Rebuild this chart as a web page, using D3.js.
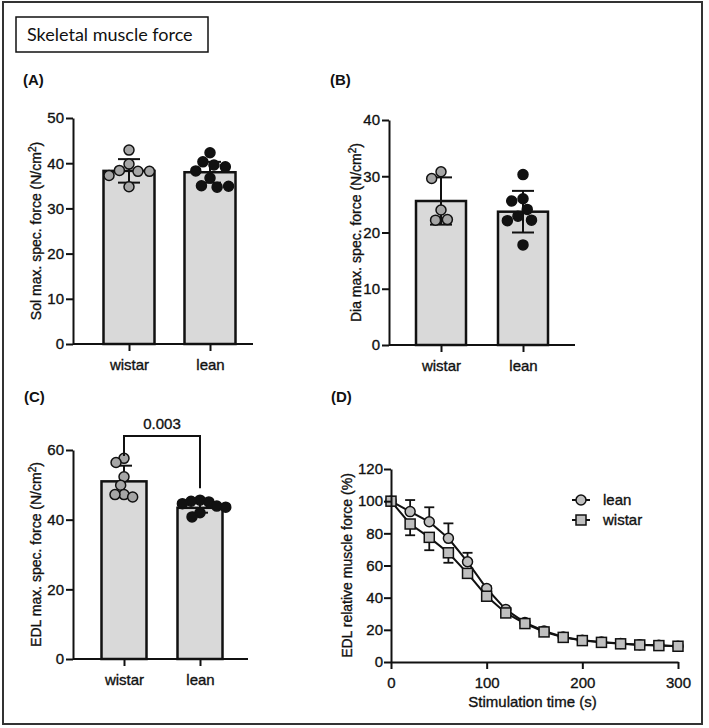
<!DOCTYPE html>
<html>
<head>
<meta charset="utf-8">
<script src="https://cdn.jsdelivr.net/npm/d3@7"></script>
<style>
body { margin: 0; background: #fff; }
text { font-family: "Liberation Sans", Arial, sans-serif; fill: #111; }
</style>
</head>
<body>
<div id="chart-area"></div>
<script>
const FIGURE = { WIDTH: 709, HEIGHT: 728 };

// data
const groups = ["wistar", "lean"];

const solMean = [38.3, 38.0];
const solSD = [2.6, 2.3];
const solWistar = [42.9, 39.8, 38.4, 38.2, 38.2, 37.3, 34.8];
const solLean = [42.3, 40.3, 39.6, 39.2, 38.3, 36.7, 35.0, 34.7, 34.9];

const diaMean = [25.6, 23.7];
const diaSD = [4.2, 3.7];
const diaWistar = [30.8, 29.6, 24.0, 22.2, 22.3];
const diaLean = [30.3, 26.0, 25.6, 24.1, 22.9, 22.2, 22.1, 17.8];

const edlMean = [51.0, 43.4];
const edlSD = [4.5, 1.4];
const edlWistar = [57.6, 56.4, 52.3, 49.9, 47.2, 47.2, 46.5];
const edlLean = [45.6, 45.3, 45.1, 44.6, 43.9, 43.6, 42.0, 40.8];
const edlP = "0.003";

const timePoints = [0, 20, 40, 60, 80, 100, 120, 140, 160, 180, 200, 220, 240, 260, 280, 300];
const leanFatigue = [100, 93.5, 87.2, 76.9, 62.3, 45.7, 32.6, 24.5, 19.3, 15.6, 13.5, 12.5, 11.5, 10.8, 10.4, 9.8];
const leanFatigueSD = [0, 7.2, 9.0, 9.3, 5.6, 1.5, 1.0, 0.8, 0.6, 0.5, 0.5, 0.4, 0.4, 0.4, 0.3, 0.3];
const wistarFatigue = [100, 85.8, 77.5, 67.9, 55.1, 40.9, 30.5, 23.9, 18.7, 15.3, 13.3, 12.2, 11.3, 10.6, 10.2, 9.8];
const wistarFatigueSD = [0, 7.0, 8.0, 6.2, 2.0, 1.5, 1.0, 0.8, 0.6, 0.5, 0.5, 0.4, 0.4, 0.4, 0.3, 0.3];

const svg = d3.select("#chart-area")
    .append("svg")
        .attr("width", FIGURE.WIDTH)
        .attr("height", FIGURE.HEIGHT);

// outer frame and title box
svg.append("rect")
    .attr("x", 3).attr("y", 2)
    .attr("width", 699).attr("height", 722)
    .attr("fill", "none").attr("stroke", "#333").attr("stroke-width", 2);
svg.append("rect")
    .attr("x", 16).attr("y", 17)
    .attr("width", 192).attr("height", 35)
    .attr("fill", "none").attr("stroke", "#111").attr("stroke-width", 1.5);
svg.append("text")
    .attr("x", 27).attr("y", 41)
    .style("font-family", "Lato, 'Open Sans', sans-serif")
    .style("font-size", "18px")
    .text("Skeletal muscle force");

// panel letters
[["(A)", 23, 85], ["(B)", 330, 85], ["(C)", 24, 402], ["(D)", 331, 402]].forEach(l => {
    svg.append("text")
        .attr("x", l[1]).attr("y", l[2])
        .style("font-size", "15px").style("font-weight", "bold")
        .text(l[0]);
});

// labels in the figure look slightly heavier than plain Arial
function heavy(sel) {
    sel.attr("stroke", "#111").attr("stroke-width", 0.35);
}

function styleAxis(g) {
    g.selectAll("path, line").attr("stroke", "#111").attr("stroke-width", 2);
    g.selectAll("text").style("font-size", "15px").attr("fill", "#111").call(heavy);
}

// simple beeswarm so dots don't overlap too much
function swarm(values, y, cx, D) {
    const placed = [];
    values.forEach(v => {
        const py = y(v);
        const cands = [0];
        placed.forEach(p => {
            const dy = Math.abs(p.y - py);
            if (dy < D) {
                const dx = Math.sqrt(D * D - dy * dy);
                cands.push(p.dx - dx, p.dx + dx);
            }
        });
        cands.sort((a, b) => Math.abs(a) - Math.abs(b));
        const ok = cands.find(c => placed.every(p => Math.hypot(p.dx - c, p.y - py) >= D - 0.01));
        placed.push({ dx: ok, y: py });
    });
    return placed.map(p => ({ x: cx + p.dx, y: p.y }));
}

function barPanel(cfg, means, sds, ptsW, ptsL, title) {
    const g = svg.append("g");

    const y = d3.scaleLinear()
        .domain([0, cfg.ymax])
        .range([cfg.bottom, cfg.top]);
    const x = d3.scalePoint()
        .domain(groups)
        .range(cfg.centers);

    // bars
    g.selectAll("rect.bar")
        .data(groups)
        .enter()
        .append("rect")
            .attr("class", "bar")
            .attr("x", d => x(d) - cfg.barW / 2)
            .attr("y", (d, i) => y(means[i]))
            .attr("width", cfg.barW)
            .attr("height", (d, i) => y(0) - y(means[i]))
            .attr("fill", "#d9d9d9")
            .attr("stroke", "#111")
            .attr("stroke-width", 2.5);

    // SD error bars
    groups.forEach((d, i) => {
        const cx = x(d);
        const lo = y(means[i] - sds[i]), hi = y(means[i] + sds[i]);
        g.append("line")
            .attr("x1", cx).attr("x2", cx).attr("y1", lo).attr("y2", hi)
            .attr("stroke", "#111").attr("stroke-width", 2);
        [lo, hi].forEach(yy => {
            g.append("line")
                .attr("x1", cx - cfg.cap / 2).attr("x2", cx + cfg.cap / 2)
                .attr("y1", yy).attr("y2", yy)
                .attr("stroke", "#111").attr("stroke-width", 2);
        });
    });

    // individual animals
    const fills = { wistar: "#a6a6a6", lean: "#111" };
    [[ptsW, "wistar"], [ptsL, "lean"]].forEach(([vals, grp]) => {
        g.selectAll(null)
            .data(swarm(vals, y, x(grp), cfg.gap))
            .enter()
            .append("circle")
                .attr("cx", d => d.x)
                .attr("cy", d => d.y)
                .attr("r", 5)
                .attr("fill", fills[grp])
                .attr("stroke", "#111")
                .attr("stroke-width", 1.5);
    });

    // axes
    const yAxis = d3.axisLeft(y)
        .tickValues(d3.range(0, cfg.ymax + 1, cfg.step))
        .tickSize(7).tickPadding(2).tickSizeOuter(0);
    g.append("g")
        .attr("transform", `translate(${cfg.left}, 0)`)
        .call(yAxis)
        .call(styleAxis);

    const xAxis = d3.axisBottom(x).tickSize(7).tickPadding(8).tickSizeOuter(0);
    const xg = g.append("g")
        .attr("transform", `translate(0, ${cfg.bottom})`)
        .call(xAxis)
        .call(styleAxis);
    xg.select(".domain").remove();
    xg.append("line")
        .attr("x1", cfg.left).attr("x2", cfg.right)
        .attr("stroke", "#111").attr("stroke-width", 2);

    // y title with superscript
    const t = g.append("text")
        .attr("transform", `translate(${cfg.titleX}, ${(cfg.top + cfg.bottom) / 2}) rotate(-90)`)
        .attr("text-anchor", "middle")
        .style("font-size", "14px")
        .call(heavy);
    t.append("tspan").text(title + " (N/cm");
    t.append("tspan").attr("dy", -5).style("font-size", "10px").text("2");
    t.append("tspan").attr("dy", 5).text(")");

    return { g, x, y };
}

barPanel({ left: 73, right: 253, top: 118, bottom: 344, ymax: 50, step: 10,
    centers: [129, 210], barW: 51, cap: 22, gap: 11.5, titleX: 41 },
    solMean, solSD, solWistar, solLean, "Sol max. spec. force");

barPanel({ left: 389, right: 575, top: 120, bottom: 345, ymax: 40, step: 10,
    centers: [441, 523], barW: 50, cap: 22, gap: 11.5, titleX: 361 },
    diaMean, diaSD, diaWistar, diaLean, "Dia max. spec. force");

const pC = barPanel({ left: 73, right: 248, top: 450, bottom: 659, ymax: 60, step: 20,
    centers: [124, 200], barW: 45, cap: 16, gap: 9, titleX: 41 },
    edlMean, edlSD, edlWistar, edlLean, "EDL max. spec. force");

// significance bracket
const bx1 = pC.x("wistar"), bx2 = pC.x("lean");
pC.g.append("path")
    .attr("d", `M${bx1},${pC.y(58.3)}V${pC.y(64)}H${bx2}V${pC.y(49)}`)
    .attr("fill", "none").attr("stroke", "#111").attr("stroke-width", 2);
pC.g.append("text")
    .attr("x", (bx1 + bx2) / 2).attr("y", pC.y(64) - 7)
    .attr("text-anchor", "middle")
    .style("font-size", "15px")
    .call(heavy)
    .text(edlP);

// (D) fatigue curves
const D = { left: 391, right: 678, top: 469, bottom: 662 };
const xD = d3.scaleLinear().domain([0, 300]).range([D.left, D.right]);
const yD = d3.scaleLinear().domain([0, 120]).range([D.bottom, D.top]);
const plotD = svg.append("g");

const series = [
    { name: "lean", vals: leanFatigue, sd: leanFatigueSD, dir: 1, shape: "circle" },
    { name: "wistar", vals: wistarFatigue, sd: wistarFatigueSD, dir: -1, shape: "square" }
];

const line = d3.line()
    .x((d, i) => xD(timePoints[i]))
    .y(d => yD(d));

function marker(sel, shape, cx, cy) {
    if (shape === "circle") {
        sel.append("circle").attr("cx", cx).attr("cy", cy).attr("r", 5);
    } else {
        sel.append("rect").attr("x", cx - 5).attr("y", cy - 5).attr("width", 10).attr("height", 10);
    }
    sel.selectAll("circle, rect")
        .attr("fill", "#bfbfbf").attr("stroke", "#111").attr("stroke-width", 1.5);
}

series.forEach(s => {
    const sg = plotD.append("g");
    // error bars, one side only
    s.vals.forEach((v, i) => {
        if (s.sd[i] < 1.5) return;
        const cx = xD(timePoints[i]);
        const end = yD(v + s.dir * s.sd[i]);
        sg.append("line")
            .attr("x1", cx).attr("x2", cx).attr("y1", yD(v)).attr("y2", end)
            .attr("stroke", "#111").attr("stroke-width", 1.8);
        sg.append("line")
            .attr("x1", cx - 5).attr("x2", cx + 5).attr("y1", end).attr("y2", end)
            .attr("stroke", "#111").attr("stroke-width", 1.8);
    });
    sg.append("path")
        .datum(s.vals)
        .attr("d", line)
        .attr("fill", "none").attr("stroke", "#111").attr("stroke-width", 2);
    s.vals.forEach((v, i) => {
        marker(sg.append("g"), s.shape, xD(timePoints[i]), yD(v));
    });
});

const xAxisD = d3.axisBottom(xD).tickValues([0, 100, 200, 300]).tickSize(7).tickPadding(8).tickSizeOuter(0);
plotD.append("g")
    .attr("transform", `translate(0, ${D.bottom})`)
    .call(xAxisD)
    .call(styleAxis);
const yAxisD = d3.axisLeft(yD).tickValues(d3.range(0, 121, 20)).tickSize(7).tickPadding(1).tickSizeOuter(0);
plotD.append("g")
    .attr("transform", `translate(${D.left}, 0)`)
    .call(yAxisD)
    .call(styleAxis);

plotD.append("text")
    .attr("x", (D.left + D.right) / 2 - 2).attr("y", 707)
    .attr("text-anchor", "middle")
    .style("font-size", "15px")
    .call(heavy)
    .text("Stimulation time (s)");
plotD.append("text")
    .attr("transform", `translate(352, ${(D.top + D.bottom) / 2}) rotate(-90)`)
    .attr("text-anchor", "middle")
    .style("font-size", "14px")
    .call(heavy)
    .text("EDL relative muscle force (%)");

// legend
series.forEach((s, i) => {
    const ly = 500 + i * 20;
    const lg = plotD.append("g");
    lg.append("line")
        .attr("x1", 572).attr("x2", 590).attr("y1", ly).attr("y2", ly)
        .attr("stroke", "#111").attr("stroke-width", 2);
    marker(lg, s.shape, 581, ly);
    lg.append("text")
        .attr("x", 603).attr("y", ly + 5)
        .style("font-size", "15px")
        .call(heavy)
        .text(s.name);
});
</script>
</body>
</html>
